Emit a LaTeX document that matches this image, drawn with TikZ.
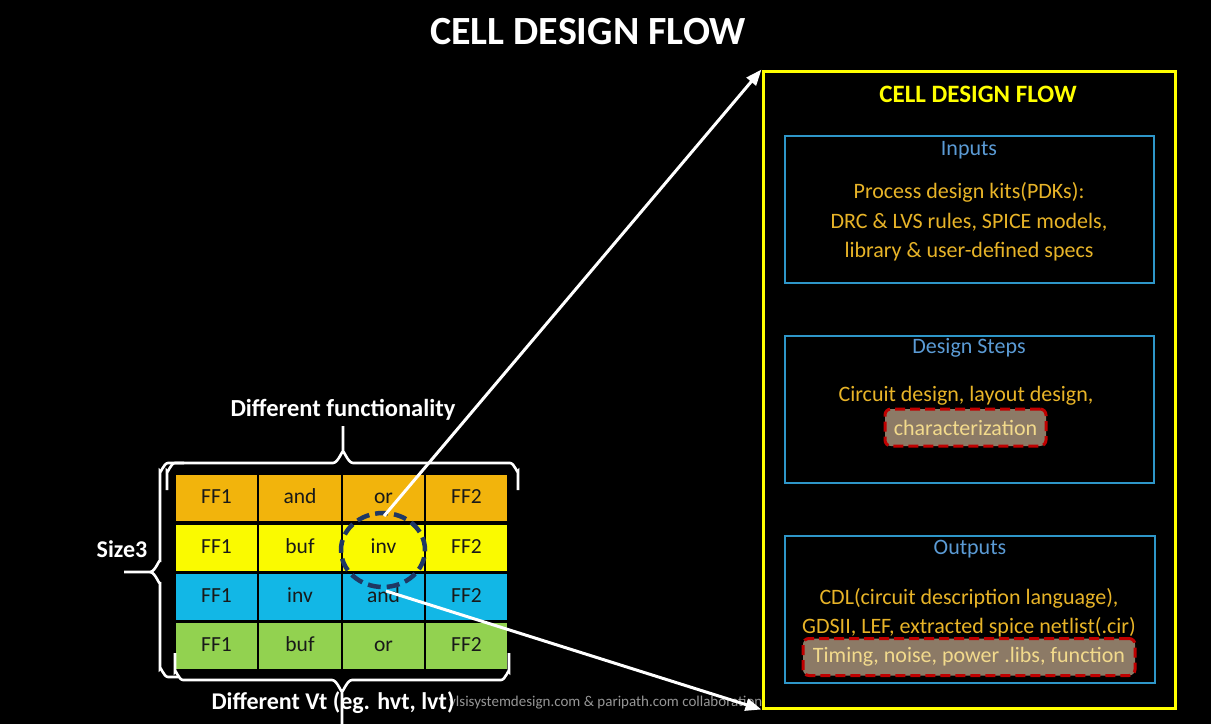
\documentclass[tikz,border=0pt]{standalone}
\usepackage{fontspec}
\setmainfont{Carlito}
\usetikzlibrary{arrows.meta,shapes.geometric}
\definecolor{rowor}{RGB}{242,180,12}
\definecolor{rowye}{RGB}{250,250,0}
\definecolor{rowcy}{RGB}{18,183,230}
\definecolor{rowgr}{RGB}{146,210,80}
\definecolor{celltxt}{RGB}{25,25,25}
\definecolor{frameye}{RGB}{255,255,0}
\definecolor{boxblue}{RGB}{46,150,200}
\definecolor{headblue}{RGB}{91,155,213}
\definecolor{bodyor}{RGB}{232,180,40}
\definecolor{hlfill}{RGB}{140,122,102}
\definecolor{hlred}{RGB}{192,0,0}
\definecolor{hltxt}{RGB}{242,218,140}
\definecolor{navy}{RGB}{31,56,100}
\definecolor{wmgray}{RGB}{150,150,150}
\tikzset{
  cellbox/.style={draw=black, line width=1.5pt, minimum width=83pt, minimum height=48pt,
     inner sep=0pt, text height=14pt, text depth=4pt, text=celltxt, font=\fontsize{21.5}{24}\selectfont},
  stepframe/.style={draw=boxblue, line width=1.6pt},
  headtxt/.style={text=headblue, font=\fontsize{22}{24}\selectfont, inner sep=0pt},
  bodytxt/.style={text=bodyor, align=center, font=\fontsize{22}{29.5}\selectfont, inner sep=0pt},
  hlbox/.style={draw=hlred, fill=hlfill, line width=3pt, dash pattern=on 10pt off 5pt,
     rounded corners=6pt, text=hltxt, font=\fontsize{22}{24}\selectfont},
  bracestyle/.style={draw=white, line width=2.6pt},
  whitelbl/.style={text=white, font=\bfseries\fontsize{24}{28}\selectfont, inner sep=0pt},
  ptr/.style={draw=white, line width=3pt, -{Triangle[length=16pt,width=12pt]}},
}
\begin{document}
\begin{tikzpicture}[x=1pt,y=-1pt]
\useasboundingbox[fill=black] (0,0) rectangle (1211,724);

% main title
\node[text=white, font=\bfseries\fontsize{40}{46}\selectfont, inner sep=0pt] (title) at (588,32) {CELL DESIGN FLOW};

% table
\foreach \r/\y/\c/\a/\b/\cc/\d in {1/498/rowor/FF1/and/or/FF2, 2/548/rowye/FF1/buf/inv/FF2, 3/597/rowcy/FF1/inv/and/FF2, 4/646/rowgr/FF1/buf/or/FF2}{
  \node[cellbox, fill=\c] (r\r c1) at (216.5,\y) {\a};
  \node[cellbox, fill=\c] (r\r c2) at (300,\y) {\b};
  \node[cellbox, fill=\c] (r\r c3) at (383.5,\y) {\cc};
  \node[cellbox, fill=\c] (r\r c4) at (466.5,\y) {\d};
}

% dashed ellipse
\node[draw=navy, ellipse, line width=4.5pt, dash pattern=on 13pt off 6pt, minimum width=84pt, minimum height=74pt, inner sep=0pt] (sel) at (383,550) {};

% braces
\draw[bracestyle] (167,490) -- (167,471) to[out=-90,in=180] (175,463) -- (333,463) to[out=0,in=90] (343,453) -- (343,426);
\draw[bracestyle] (518,490) -- (518,471) to[out=-90,in=0] (510,463) -- (353,463) to[out=180,in=90] (343,453);
\draw[bracestyle] (184,463) -- (168,463) to[out=180,in=-90] (160,471) -- (160,562) to[out=90,in=0] (150,572) -- (124,572);
\draw[bracestyle] (178,677) -- (168,677) to[out=180,in=90] (160,669) -- (160,582) to[out=-90,in=0] (150,572);
\draw[bracestyle] (175,653) -- (175,672) to[out=90,in=180] (183,680) -- (332,680) to[out=0,in=-90] (342,690) -- (342,724);
\draw[bracestyle] (509,653) -- (509,672) to[out=90,in=0] (501,680) -- (352,680) to[out=180,in=-90] (342,690);

% watermark
\node[anchor=west, text=wmgray, font=\fontsize{15}{18}\selectfont, inner sep=0pt] (wm) at (449,703) {vlsisystemdesign.com \& paripath.com collaboration};

% labels
\node[whitelbl, font=\bfseries\fontsize{24.5}{28}\selectfont] (lfun) at (343,410) {Different functionality};
\node[whitelbl] (lsize) at (122,549) {Size3};
\node[whitelbl] (lvt) at (333,703) {Different Vt (eg. hvt, lvt)};

% right frame
\node[draw=frameye, line width=3pt, minimum width=412pt, minimum height=637pt, inner sep=0pt] (frame) at (969,389.5) {};
\node[text=frameye, font=\bfseries\fontsize{25}{30}\selectfont, inner sep=0pt] (ftitle) at (978,94) {CELL DESIGN FLOW};

% inputs
\node[stepframe, minimum width=369pt, minimum height=147pt, inner sep=0pt] (inbox) at (969.5,209.5) {};
\node[headtxt] (inhead) at (969,150) {Inputs};
\node[bodytxt] (inbody) at (969,222) {Process design kits(PDKs):\\DRC \& LVS rules, SPICE models,\\library \& user-defined specs};

% design steps
\node[stepframe, minimum width=369pt, minimum height=147pt, inner sep=0pt] (stbox) at (969.5,409.5) {};
\node[headtxt] (sthead) at (969,348) {Design Steps};
\node[bodytxt] (stbody) at (966,396) {Circuit design, layout design,};
\node[hlbox, minimum width=161pt, minimum height=37pt, inner sep=0pt] (char) at (965.5,427.5) {characterization};

% outputs
\node[stepframe, minimum width=370pt, minimum height=147pt, inner sep=0pt] (outbox) at (970,609.5) {};
\node[headtxt] (outhead) at (970,549) {Outputs};
\node[bodytxt] (outbody) at (969,612.5) {CDL(circuit description language),\\GDSII, LEF, extracted spice netlist(.cir)};
\node[hlbox, minimum width=332pt, minimum height=37pt, inner sep=0pt] (libs) at (969,657) {Timing, noise, power .libs, function};

% pointers
\coordinate (a1) at (384,516);
\coordinate (a2) at (386,591);
\draw[ptr] (a1) -- (frame.north west);
\draw[ptr] (a2) -- (frame.south west);
\end{tikzpicture}
\end{document}
